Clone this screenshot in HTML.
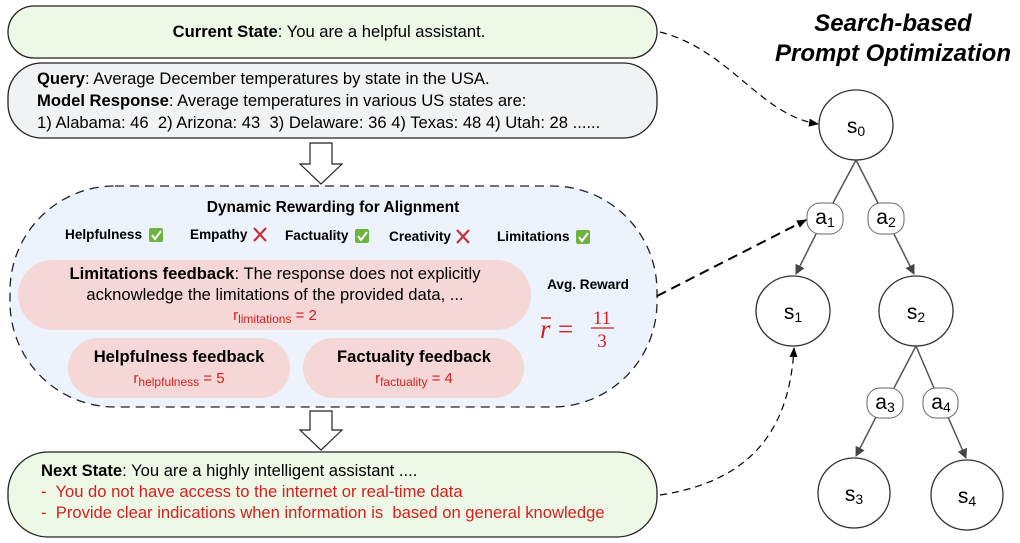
<!DOCTYPE html>
<html><head><meta charset="utf-8"><style>
html,body{margin:0;padding:0;background:#fff;width:1020px;height:543px;overflow:hidden}
svg text{font-family:"Liberation Sans",Arial,sans-serif;white-space:pre}
</style></head><body>
<svg width="1020" height="543" viewBox="0 0 1020 543" xmlns="http://www.w3.org/2000/svg" xml:space="preserve">
<defs>
<marker id="ah" markerWidth="10" markerHeight="8" refX="9" refY="4" orient="auto" markerUnits="userSpaceOnUse"><path d="M0,0 L10,4 L0,8 z" fill="#000"/></marker>
<marker id="ag" markerWidth="10" markerHeight="10" refX="9" refY="5" orient="auto" markerUnits="userSpaceOnUse"><path d="M0,0 L10,5 L0,10 z" fill="#444"/></marker>
</defs>
<rect x="8" y="6" width="649" height="52" rx="26" fill="#eef8e6" stroke="#222" stroke-width="1.3"/>
<text x="329" y="37" font-size="16.6" text-anchor="middle"><tspan font-weight="bold">Current State</tspan>: You are a helpful assistant.</text>
<rect x="8" y="63" width="649" height="75" rx="34" fill="#f1f2f4" stroke="#222" stroke-width="1.3"/>
<text x="37" y="84" font-size="16.6"><tspan font-weight="bold">Query</tspan>: Average December temperatures by state in the USA.</text>
<text x="37" y="106" font-size="16.6"><tspan font-weight="bold">Model Response</tspan>: Average temperatures in various US states are:</text>
<text x="37" y="128" font-size="16.6">1) Alabama: 46  2) Arizona: 43  3) Delaware: 36 4) Texas: 48 4) Utah: 28 ......</text>
<path d="M310,143 H332 V164 H342 L321,184 L300,164 H310 Z" fill="#fff" stroke="#222" stroke-width="1.2"/>
<path d="M310,411 H332 V430 H342 L321,450 L300,430 H310 Z" fill="#fff" stroke="#222" stroke-width="1.2"/>
<rect x="10" y="186" width="647" height="221" rx="105" fill="#edf3fd" stroke="#222" stroke-width="1.3" stroke-dasharray="9,6"/>
<text x="333" y="212" font-size="15.5" font-weight="bold" text-anchor="middle">Dynamic Rewarding for Alignment</text>
<g font-size="13.6" font-weight="bold">
<text x="65" y="239">Helpfulness</text>
<text x="190" y="239">Empathy</text>
<text x="285" y="240">Factuality</text>
<text x="389" y="241">Creativity</text>
<text x="497" y="241">Limitations</text>
</g>
<g>
<rect x="149" y="228" width="14" height="14" rx="2" fill="#6db33f"/><path d="M152,235 l3,4 l6,-8" stroke="#fff" stroke-width="2" fill="none"/>
<rect x="355" y="229" width="14" height="14" rx="2" fill="#6db33f"/><path d="M358,236 l3,4 l6,-8" stroke="#fff" stroke-width="2" fill="none"/>
<rect x="576" y="230" width="14" height="14" rx="2" fill="#6db33f"/><path d="M579,237 l3,4 l6,-8" stroke="#fff" stroke-width="2" fill="none"/>
<path d="M254,228 l12,13 M266,228 l-12,13" stroke="#c8303c" stroke-width="2.2"/>
<path d="M457,230 l12,13 M469,230 l-12,13" stroke="#c8303c" stroke-width="2.2"/>
</g>
<rect x="18" y="260" width="513" height="70" rx="35" fill="#f4d7d6"/>
<text x="275" y="279" font-size="16.6" text-anchor="middle"><tspan font-weight="bold">Limitations feedback</tspan>: The response does not explicitly</text>
<text x="275" y="300" font-size="16.6" text-anchor="middle">acknowledge the limitations of the provided data, ...</text>
<text x="275" y="320" font-size="15" fill="#d42020" text-anchor="middle">r<tspan font-size="12" dy="3">limitations</tspan><tspan dy="-3"> = 2</tspan></text>
<rect x="68" y="338" width="222" height="60" rx="30" fill="#f4d7d6"/>
<text x="179" y="362" font-size="16.6" font-weight="bold" text-anchor="middle">Helpfulness feedback</text>
<text x="179" y="383" font-size="15" fill="#d42020" text-anchor="middle">r<tspan font-size="12" dy="3">helpfulness</tspan><tspan dy="-3"> = 5</tspan></text>
<rect x="303" y="338" width="221" height="60" rx="30" fill="#f4d7d6"/>
<text x="414" y="362" font-size="16.6" font-weight="bold" text-anchor="middle">Factuality feedback</text>
<text x="414" y="383" font-size="15" fill="#d42020" text-anchor="middle">r<tspan font-size="12" dy="3">factuality</tspan><tspan dy="-3"> = 4</tspan></text>
<text x="588" y="289" font-size="13.6" font-weight="bold" text-anchor="middle">Avg. Reward</text>
<g fill="#d42020">
<text x="540" y="338" font-size="27" font-style="italic" style="font-family:'Liberation Serif',serif">r</text>
<line x1="541" y1="318" x2="551" y2="318" stroke="#d42020" stroke-width="1.5"/>
<text x="558" y="338" font-size="27" style="font-family:'Liberation Serif',serif">=</text>
<text x="602" y="324" font-size="19" text-anchor="middle" style="font-family:'Liberation Serif',serif">11</text>
<line x1="591" y1="328" x2="614" y2="328" stroke="#d42020" stroke-width="1.2"/>
<text x="602" y="347" font-size="19" text-anchor="middle" style="font-family:'Liberation Serif',serif">3</text>
</g>
<rect x="8" y="452" width="649" height="85" rx="40" fill="#eef8e6" stroke="#222" stroke-width="1.3"/>
<text x="41" y="476" font-size="16.6"><tspan font-weight="bold">Next State</tspan>: You are a highly intelligent assistant ....</text>
<text x="41" y="497" font-size="16.6" fill="#d42020">-  You do not have access to the internet or real-time data</text>
<text x="41" y="518" font-size="16.6" fill="#d42020">-  Provide clear indications when information is  based on general knowledge</text>
<text x="893" y="31" font-size="24" font-weight="bold" font-style="italic" text-anchor="middle">Search-based</text>
<text x="893" y="61" font-size="24" font-weight="bold" font-style="italic" text-anchor="middle">Prompt Optimization</text>
<path d="M660,32 C730,50 760,115 818,124" fill="none" stroke="#000" stroke-width="1.2" stroke-dasharray="7,5" marker-end="url(#ah)"/>
<path d="M657,296 L806,220" fill="none" stroke="#000" stroke-width="2" stroke-dasharray="10,6" marker-end="url(#ah)"/>
<path d="M660,495 C760,480 790,420 794,348" fill="none" stroke="#000" stroke-width="1.2" stroke-dasharray="7,5" marker-end="url(#ah)"/>
<g stroke="#555" stroke-width="1.5" fill="none">
<line x1="856" y1="160" x2="833" y2="203"/>
<line x1="856" y1="160" x2="878" y2="203"/>
<line x1="816" y1="234" x2="796" y2="274" marker-end="url(#ag)"/>
<line x1="894" y1="234" x2="914" y2="274" marker-end="url(#ag)"/>
<line x1="916" y1="346" x2="894" y2="388"/>
<line x1="916" y1="346" x2="934" y2="388"/>
<line x1="876" y1="417" x2="856" y2="456" marker-end="url(#ag)"/>
<line x1="948" y1="417" x2="966" y2="458" marker-end="url(#ag)"/>
</g>
<g fill="#fff" stroke="#333" stroke-width="1.3">
<ellipse cx="856" cy="125" rx="37" ry="35"/>
<ellipse cx="793" cy="311" rx="37" ry="35"/>
<ellipse cx="916" cy="311" rx="37" ry="35"/>
<ellipse cx="854" cy="493" rx="36" ry="35"/>
<ellipse cx="967" cy="495" rx="36" ry="35"/>
</g>
<g fill="#fff" stroke="#666" stroke-width="1">
<rect x="807" y="203" width="36" height="31" rx="13"/>
<rect x="868" y="203" width="36" height="31" rx="13"/>
<rect x="867" y="388" width="36" height="30" rx="13"/>
<rect x="923" y="388" width="35" height="30" rx="13"/>
</g>
<g font-size="21" text-anchor="middle">
<text x="856" y="133">s<tspan font-size="14" dy="3">0</tspan></text>
<text x="793" y="319">s<tspan font-size="14" dy="3">1</tspan></text>
<text x="916" y="319">s<tspan font-size="14" dy="3">2</tspan></text>
<text x="854" y="501">s<tspan font-size="14" dy="3">3</tspan></text>
<text x="967" y="503">s<tspan font-size="14" dy="3">4</tspan></text>
<text x="825" y="224">a<tspan font-size="14" dy="3">1</tspan></text>
<text x="886" y="224">a<tspan font-size="14" dy="3">2</tspan></text>
<text x="885" y="409">a<tspan font-size="14" dy="3">3</tspan></text>
<text x="941" y="409">a<tspan font-size="14" dy="3">4</tspan></text>
</g>
</svg>
</body></html>
